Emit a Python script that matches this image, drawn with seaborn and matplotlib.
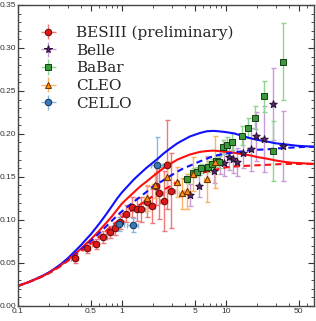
import numpy as np
import matplotlib
matplotlib.use("Agg")
import matplotlib.pyplot as plt
import seaborn as sns
from matplotlib.ticker import MultipleLocator, LogLocator, FixedLocator, FixedFormatter, NullFormatter

# --- data (Q^2 in GeV^2, Q^2 F(Q^2) in GeV) ---
besiii_q2 = [0.35, 0.46, 0.56, 0.66, 0.76, 0.86, 0.96, 1.08, 1.24, 1.38, 1.53, 1.72, 1.92, 2.12, 2.29, 2.52, 2.72, 2.98]
besiii_f = [0.056, 0.067, 0.072, 0.080, 0.086, 0.090, 0.098, 0.107, 0.115, 0.112, 0.112, 0.121, 0.116, 0.139, 0.131, 0.122, 0.164, 0.134]
besiii_err = [0.006, 0.006, 0.006, 0.007, 0.007, 0.008, 0.009, 0.010, 0.012, 0.013, 0.014, 0.018, 0.020, 0.022, 0.030, 0.035, 0.052, 0.044]

belle_q2 = [4.5, 5.5, 6.5, 7.6, 8.8, 9.6, 10.6, 11.7, 12.8, 14.4, 17.3, 19.5, 22.9, 28.5, 35.0]
belle_f = [0.129, 0.139, 0.160, 0.157, 0.1675, 0.166, 0.173, 0.171, 0.167, 0.178, 0.182, 0.197, 0.194, 0.235, 0.186]
belle_err = [0.013, 0.013, 0.014, 0.014, 0.014, 0.015, 0.015, 0.016, 0.016, 0.018, 0.025, 0.029, 0.038, 0.042, 0.041]

babar_q2 = [4.2, 4.8, 5.3, 5.8, 6.7, 7.3, 8.0, 8.6, 9.4, 10.3, 11.5, 14.1, 16.4, 18.9, 22.9, 28.5, 35.0]
babar_f = [0.148, 0.155, 0.156, 0.160, 0.162, 0.165, 0.168, 0.167, 0.185, 0.187, 0.191, 0.198, 0.207, 0.219, 0.244, 0.180, 0.284]
babar_err = [0.005, 0.005, 0.005, 0.005, 0.006, 0.006, 0.006, 0.007, 0.008, 0.009, 0.010, 0.011, 0.012, 0.013, 0.018, 0.035, 0.045]

cleo_q2 = [1.72, 2.07, 2.69, 3.36, 3.75, 4.2, 4.84, 6.5, 7.9]
cleo_f = [0.125, 0.140, 0.150, 0.144, 0.131, 0.133, 0.153, 0.147, 0.167]
cleo_err = [0.015, 0.015, 0.018, 0.018, 0.018, 0.020, 0.020, 0.026, 0.030]

cello_q2 = [0.94, 1.27, 2.17]
cello_f = [0.095, 0.094, 0.164]
cello_err = [0.008, 0.008, 0.032]

# model curves
curve_q2 = [0.1, 0.13, 0.17, 0.2, 0.25, 0.3, 0.35, 0.4, 0.45, 0.5, 0.6, 0.7, 0.8, 0.9, 1.0,
            1.15, 1.3, 1.5, 1.7, 2.0, 2.2, 2.5, 2.9, 3.4, 3.9, 4.5, 5.6, 6.5, 7.5, 8.5, 10,
            12, 14, 17, 20, 25, 30, 36, 42, 50, 60, 70]
blue_solid = [0.023, 0.028, 0.0345, 0.039, 0.047, 0.055, 0.063, 0.070, 0.077, 0.083, 0.095, 0.106, 0.116, 0.125, 0.132,
              0.140, 0.147, 0.154, 0.160, 0.167, 0.171, 0.177, 0.183, 0.189, 0.193, 0.197, 0.201, 0.203, 0.2035, 0.203, 0.202,
              0.2005, 0.198, 0.195, 0.193, 0.191, 0.189, 0.188, 0.187, 0.186, 0.1855, 0.185]
red_solid = [0.023, 0.028, 0.034, 0.0385, 0.046, 0.053, 0.060, 0.066, 0.072, 0.077, 0.087, 0.096, 0.104, 0.112, 0.119,
             0.126, 0.132, 0.139, 0.144, 0.151, 0.155, 0.160, 0.165, 0.170, 0.173, 0.176, 0.179, 0.180, 0.1805, 0.180, 0.179,
             0.178, 0.1765, 0.175, 0.173, 0.171, 0.169, 0.1675, 0.1665, 0.166, 0.1655, 0.165]
blue_dashed = [0.023, 0.028, 0.034, 0.0385, 0.046, 0.053, 0.059, 0.065, 0.070, 0.075, 0.084, 0.092, 0.099, 0.105, 0.110,
               0.116, 0.121, 0.127, 0.132, 0.139, 0.142, 0.146, 0.151, 0.156, 0.160, 0.163, 0.168, 0.171, 0.174, 0.1755, 0.177,
               0.1785, 0.1795, 0.181, 0.1815, 0.182, 0.183, 0.1835, 0.184, 0.1845, 0.185, 0.185]
red_dashed = [0.023, 0.028, 0.034, 0.038, 0.045, 0.052, 0.058, 0.063, 0.068, 0.072, 0.080, 0.087, 0.093, 0.098, 0.103,
              0.108, 0.113, 0.118, 0.122, 0.128, 0.131, 0.135, 0.139, 0.144, 0.147, 0.150, 0.154, 0.156, 0.158, 0.159, 0.161,
              0.162, 0.1625, 0.163, 0.1635, 0.164, 0.1645, 0.165, 0.165, 0.165, 0.165, 0.165]

sns.set_style("ticks")
plt.rcParams['font.family'] = ['Liberation Sans', 'DejaVu Sans']

fig = plt.figure(figsize=(3.16, 3.21), dpi=100)
ax = fig.add_axes([18/316, 15.3/321, 296/316, 300.7/321])

# curves (seaborn)
for vals, col in [(blue_solid, '#1010ff'), (red_solid, '#ff1010'), (blue_dashed, '#1010ff'), (red_dashed, '#ff1010')]:
    sns.lineplot(x=curve_q2, y=vals, ax=ax, color=col, lw=1.5, zorder=2, estimator=None, sort=False)
for ln in ax.get_lines()[2:4]:
    ln.set_dashes((3, 2))


def draw_set(q2, f, err, xfrac, marker, face, edge, ecol, ms, label):
    q2 = np.array(q2)
    ax.errorbar(q2, f, yerr=err, xerr=q2 * xfrac, fmt='none', ecolor=ecol,
                elinewidth=1.0, capsize=1.8, capthick=1.0, zorder=1)
    sns.scatterplot(x=q2, y=f, ax=ax, marker=marker, color=face, edgecolor=edge,
                    linewidth=0.7, s=ms, zorder=3)
    # legend proxy
    h = ax.errorbar([], [], yerr=[], xerr=[], fmt=marker, ms=np.sqrt(ms), mfc=face, mec=edge,
                    mew=0.7, ecolor=ecol, elinewidth=1.0, capsize=1.8, label=label)
    return h


handles = []
handles.append(draw_set(besiii_q2, besiii_f, besiii_err, 0.08, 'o', '#e01818', '#5a0a0a', '#f07878', 22, 'BESIII (preliminary)'))
handles.append(draw_set(belle_q2, belle_f, belle_err, 0.04, '*', '#5a2a6e', '#2a1030', '#c89ad8', 32, 'Belle'))
handles.append(draw_set(babar_q2, babar_f, babar_err, 0.04, 's', '#3a9a3a', '#173d17', '#8ed68e', 22, 'BaBar'))
handles.append(draw_set(cleo_q2, cleo_f, cleo_err, 0.06, '^', '#ff8c10', '#6a3000', '#ffb060', 20, 'CLEO'))
handles.append(draw_set(cello_q2, cello_f, cello_err, 0.12, 'o', '#3a78b8', '#14324f', '#88b8e0', 22, 'CELLO'))

ax.set_xscale('log')
ax.set_xlim(0.1, 70)
ax.set_ylim(0, 0.35)
ax.set_xlabel('')
ax.set_ylabel('')

ax.xaxis.set_major_locator(FixedLocator([0.1, 0.5, 1, 5, 10, 50]))
ax.xaxis.set_major_formatter(FixedFormatter(['0.1', '0.5', '1', '5', '10', '50']))
ax.xaxis.set_minor_locator(LogLocator(base=10, subs=np.arange(2, 10)))
ax.xaxis.set_minor_formatter(NullFormatter())
ax.yaxis.set_major_locator(MultipleLocator(0.05))
ax.yaxis.set_minor_locator(MultipleLocator(0.01))
ax.yaxis.set_major_formatter(plt.FuncFormatter(lambda v, p: f'{v:.2f}'))

ax.tick_params(which='both', direction='in', top=True, right=True, labelsize=6, colors='#333333')
ax.tick_params(axis='y', pad=1)
ax.tick_params(axis='x', pad=2)
ax.tick_params(which='major', length=4, width=0.8)
ax.tick_params(which='minor', length=2.5, width=0.6)
for s in ax.spines.values():
    s.set_color('#444444')
    s.set_linewidth(1.0)

ax.legend(handles=handles, loc='upper left', bbox_to_anchor=(0.04, 0.952), frameon=False,
          prop={'family': 'DejaVu Serif', 'size': 11}, handlelength=1.6, handletextpad=1.0,
          labelspacing=0.24, borderaxespad=0)

fig.savefig('out.png', dpi=100)
